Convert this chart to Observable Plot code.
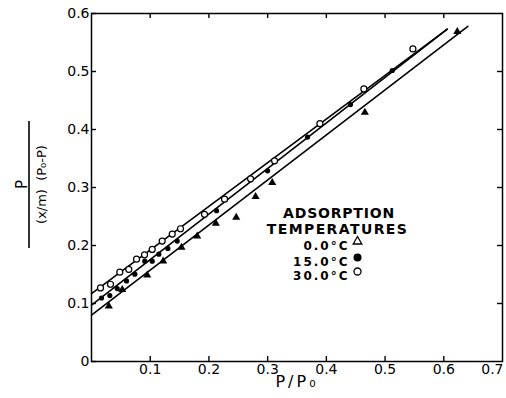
<!DOCTYPE html>
<html><head><meta charset="utf-8">
<script src="https://cdn.jsdelivr.net/npm/d3@7"></script>
<script src="https://cdn.jsdelivr.net/npm/@observablehq/plot@0.6"></script>
<style>body{margin:0;background:#fff}</style>
</head><body><div id="chart"></div>
<script>
// Axis ticks
const xTicks = [0.1, 0.2, 0.3, 0.4, 0.5, 0.6];
const xLastTick = [0.7];
const yTicks = [0, 0.1, 0.2, 0.3, 0.4, 0.5, 0.6];
const topTicks = [0.1, 0.2, 0.3, 0.4, 0.5, 0.6];
const rightTicks = [0.1, 0.2, 0.3, 0.4, 0.5];

// 0.0 °C (triangles)
const t0x = [0.0295, 0.0523, 0.0949, 0.1221, 0.1533, 0.18, 0.2118, 0.2465, 0.2794, 0.3078, 0.4656, 0.623];
const t0y = [0.0952, 0.124, 0.1488, 0.173, 0.1967, 0.2163, 0.2382, 0.2486, 0.2843, 0.3085, 0.4296, 0.5687];
// 15.0 °C (filled circles)
const t15x = [0.017, 0.0312, 0.0438, 0.0596, 0.0738, 0.0908, 0.1034, 0.1147, 0.13, 0.146, 0.213, 0.2999, 0.368, 0.441, 0.5122];
const t15y = [0.1095, 0.1137, 0.1258, 0.1389, 0.1505, 0.173, 0.173, 0.1851, 0.195, 0.2076, 0.26, 0.3287, 0.387, 0.443, 0.5017];
// 30.0 °C (open circles)
const t30x = [0.0153, 0.0324, 0.0482, 0.0635, 0.0767, 0.0903, 0.1034, 0.1204, 0.1375, 0.1516, 0.1925, 0.2266, 0.2709, 0.3118, 0.389, 0.4639, 0.5474];
const t30y = [0.1268, 0.1332, 0.154, 0.1587, 0.1765, 0.1839, 0.1933, 0.2076, 0.2197, 0.2289, 0.2538, 0.2798, 0.3149, 0.346, 0.41, 0.47, 0.539];

// Fitted straight lines (end points)
const fitSeries = ["0.0°C", "15.0°C", "30.0°C"];
const fitX0 = [0, 0, 0];
const fitY0 = [0.080, 0.097, 0.117];
const fitX1 = [0.641, 0.606, 0.606];
const fitY1 = [0.578, 0.573, 0.573];

// Legend
const legendTitle = ["ADSORPTION", "TEMPERATURES"];
const legendLabels = ["0.0°C", "15.0°C", "30.0°C"];

const toPts = (xs, ys) => xs.map((x, i) => ({x, y: ys[i]}));
const pts0 = toPts(t0x, t0y), pts15 = toPts(t15x, t15y), pts30 = toPts(t30x, t30y);
const fitLines = fitSeries.flatMap((s, i) => [
  {s, x: fitX0[i], y: fitY0[i]}, {s, x: fitX1[i], y: fitY1[i]}
]);

// frame size in pixels (for inward tick insets)
const W = 506, H = 398, mL = 91, mR = 4, mT = 13, mB = 37;
const fw = W - mL - mR, fh = H - mT - mB, tk = 5;

const titleDy = [195, 211];
const titleDx = [247.5, 246];
const titleSpacing = [0.8, 1.4];
const labelDy = [228, 244, 258];
const yTitle = "(x/m)  (P₀-P)";

const plot = Plot.plot({
  width: W, height: H,
  marginLeft: mL, marginRight: mR, marginTop: mT, marginBottom: mB,
  x: {domain: [0, 0.7]},
  y: {domain: [0, 0.6]},
  style: {fontFamily: "DejaVu Sans", fontSize: "14px", color: "black", background: "white"},
  marks: [
    Plot.frame({stroke: "black", strokeWidth: 1.5}),
    // inward ticks
    Plot.ruleX(xTicks, {x: d => d, insetTop: fh - tk, stroke: "black", strokeWidth: 1.4}),
    Plot.ruleX(topTicks, {x: d => d, insetBottom: fh - tk, stroke: "black", strokeWidth: 1.4}),
    Plot.ruleY(yTicks, {y: d => d, insetRight: fw - tk, stroke: "black", strokeWidth: 1.4}),
    Plot.ruleY(rightTicks, {y: d => d, insetLeft: fw - tk, stroke: "black", strokeWidth: 1.4}),
    // tick labels
    Plot.axisX(xTicks, {anchor: "bottom", tickSize: 0, tickPadding: 3, tickFormat: d => d.toFixed(1), label: null}),
    Plot.axisX(xLastTick, {anchor: "bottom", tickSize: 0, tickPadding: 3, textAnchor: "end", dx: 1, tickFormat: d => d.toFixed(1), label: null}),
    Plot.axisY(yTicks, {anchor: "left", tickSize: 0, tickPadding: 2, tickFormat: d => d === 0 ? "0" : d.toFixed(1), label: null}),
    // fitted lines
    Plot.line(fitLines, {x: "x", y: "y", z: "s", stroke: "black", strokeWidth: 1.6}),
    // data
    Plot.dot(pts0, {x: "x", y: "y", symbol: "triangle", r: 3, fill: "black", stroke: "none"}),
    Plot.dot(pts15, {x: "x", y: "y", r: 2.6, fill: "black", stroke: "none"}),
    Plot.dot(pts30, {x: "x", y: "y", r: 3, fill: "white", stroke: "black", strokeWidth: 1.2}),
    // legend
    ...legendTitle.map((t, i) => Plot.text([t], {text: d => d, frameAnchor: "top-left", textAnchor: "middle", dx: titleDx[i], dy: titleDy[i], fontWeight: "bold", fontSize: 14})),
    ...legendLabels.map((t, i) => Plot.text([t], {text: d => d, frameAnchor: "top-left", textAnchor: "end", dx: 258, dy: labelDy[i], fontWeight: "bold", fontSize: 12})),
    Plot.dot([legendLabels[0]], {frameAnchor: "top-left", dx: 266, dy: labelDy[0], symbol: "triangle", r: 3.2, fill: "none", stroke: "black", strokeWidth: 1.3}),
    Plot.dot([legendLabels[1]], {frameAnchor: "top-left", dx: 266, dy: labelDy[1], r: 4, fill: "black"}),
    Plot.dot([legendLabels[2]], {frameAnchor: "top-left", dx: 266, dy: labelDy[2], r: 3.5, fill: "white", stroke: "black", strokeWidth: 1.3}),
    // axis titles
    Plot.text(["P/P₀"], {text: d => d, frameAnchor: "bottom", textAnchor: "middle", dy: 25, fontSize: 16}),
    Plot.text(["P"], {text: d => d, frameAnchor: "left", textAnchor: "middle", dx: -69, dy: -3, rotate: -90, fontSize: 15}),
    Plot.text([yTitle], {text: d => d, frameAnchor: "left", textAnchor: "middle", dx: -50, dy: -3, rotate: -90, fontSize: 13})
  ]
});

const svg = d3.select(plot);
const spacing = new Map([
  [legendTitle[0], titleSpacing[0]],
  [legendTitle[1], titleSpacing[1]],
  [legendLabels[0], 2], [legendLabels[1], 2], [legendLabels[2], 2],
  ["P/P₀", 3]
]);
svg.selectAll("text").each(function() {
  const s = spacing.get(this.textContent);
  if (s != null) this.style.letterSpacing = s + "px";
});
// fraction bar of the y-axis title
svg.append("line").attr("x1", 29).attr("x2", 29).attr("y1", 121).attr("y2", 248)
  .attr("stroke", "black").attr("stroke-width", 1.6);

document.getElementById("chart").appendChild(plot);
</script>
</body></html>
